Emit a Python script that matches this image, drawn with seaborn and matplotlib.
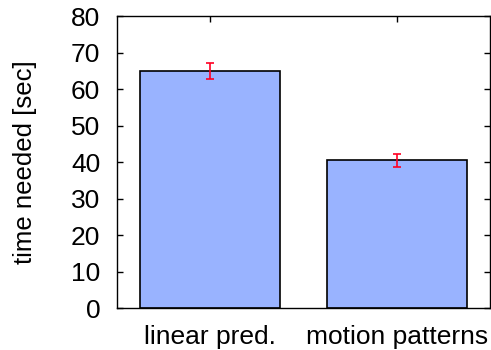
import numpy as np
import matplotlib
matplotlib.use("Agg")
import matplotlib.pyplot as plt
import seaborn as sns
import pandas as pd

# data
methods = ['linear pred.', 'motion patterns']
time_mean = [65.0, 40.5]
time_err = [2.2, 1.8]

df = pd.DataFrame({'method': methods, 'time': time_mean})

sns.set_style('ticks')
plt.rcParams['font.family'] = ['Liberation Sans', 'DejaVu Sans']
plt.rcParams['text.color'] = 'black'
plt.rcParams['axes.labelcolor'] = 'black'
plt.rcParams['xtick.color'] = 'black'
plt.rcParams['ytick.color'] = 'black'

fig = plt.figure(figsize=(4.91, 3.5), dpi=100)
ax = fig.add_axes([0.238, 0.12, 0.76, 0.834])

sns.barplot(data=df, x='method', y='time', color='#99b3ff', saturation=1,
            width=0.75, edgecolor='black', linewidth=1.2, errorbar=None, ax=ax)
ax.errorbar(range(len(methods)), time_mean, yerr=time_err, fmt='none',
            ecolor='#ff0022', elinewidth=1.2, capsize=3, capthick=1.2)

ax.set_xlim(-0.5, 1.5)
ax.set_ylim(0, 80)
ax.set_yticks(range(0, 81, 10))
ax.set_xlabel('')
ax.set_ylabel('time needed [sec]', fontsize=18.5, labelpad=24)
ax.tick_params(axis='both', direction='in', labelsize=19, top=True, right=True,
               length=4, width=1, pad=12)
for s in ax.spines.values():
    s.set_linewidth(1)
    s.set_color('black')

fig.savefig('out.png', dpi=100)
